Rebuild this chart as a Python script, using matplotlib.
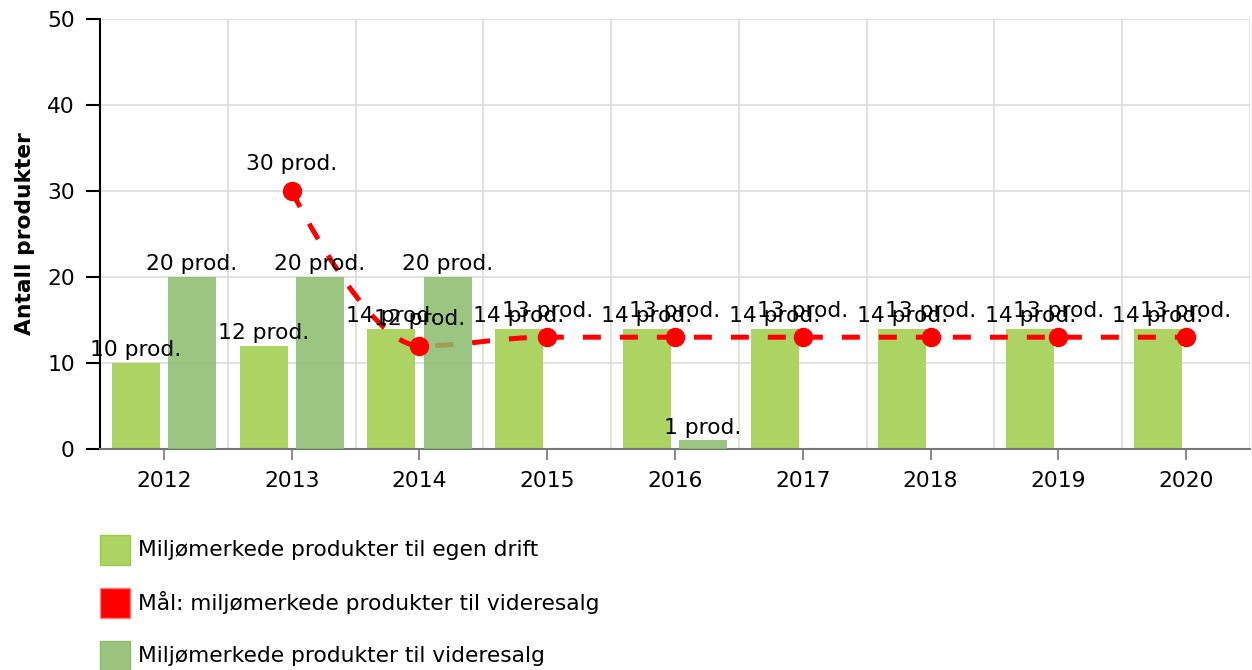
import numpy as np
import matplotlib
matplotlib.use('Agg')
import matplotlib.pyplot as plt
from matplotlib.path import Path
from matplotlib.patches import PathPatch, Rectangle

years = ['2012', '2013', '2014', '2015', '2016', '2017', '2018', '2019', '2020']
egen_drift = [10, 12, 14, 14, 14, 14, 14, 14, 14]
videresalg = [20, 20, 20, np.nan, 1, np.nan, np.nan, np.nan, np.nan]
maal = [np.nan, 30, 12, 13, 13, 13, 13, 13, 13]

legend_labels = ['Miljømerkede produkter til egen drift',
                 'Mål: miljømerkede produkter til videresalg',
                 'Miljømerkede produkter til videresalg']

c_egen = '#add463'
c_vid = '#8bbb6b'
c_red = '#ff0000'
fs = 15.7

plt.rcParams['font.family'] = ['DejaVu Sans']

W, H = 1252, 670
fig = plt.figure(figsize=(W / 100, H / 100), dpi=100)
ax = fig.add_axes([100 / W, 1 - 449 / H, 1150 / W, 430 / H])

x = np.arange(len(years))
bw = 0.375
off = 0.22

ax.bar(x - off, egen_drift, bw, color=c_egen, zorder=2)
ax.bar(x + off, videresalg, bw, color=c_vid, alpha=0.85, zorder=4)


def spline_path(xs, ys, smoothing=1.5):
    # smooth curve through the points (same control point rule as a "spline" series)
    pts = [(a, b) for a, b in zip(xs, ys) if not np.isnan(b)]
    right = {}
    verts = [pts[0]]
    codes = [Path.MOVETO]
    for i in range(1, len(pts)):
        px, py = pts[i]
        lx, ly = pts[i - 1]
        left = (px, py)
        if i + 1 < len(pts):
            nx, ny = pts[i + 1]
            d = smoothing + 1
            lcx, lcy = (smoothing * px + lx) / d, (smoothing * py + ly) / d
            rcx, rcy = (smoothing * px + nx) / d, (smoothing * py + ny) / d
            corr = (rcy - lcy) * (rcx - px) / (rcx - lcx) + py - rcy
            lcy += corr
            rcy += corr
            if lcy > ly and lcy > py:
                lcy = max(ly, py); rcy = 2 * py - lcy
            elif lcy < ly and lcy < py:
                lcy = min(ly, py); rcy = 2 * py - lcy
            if rcy > ny and rcy > py:
                rcy = max(ny, py); lcy = 2 * py - rcy
            elif rcy < ny and rcy < py:
                rcy = min(ny, py); lcy = 2 * py - rcy
            left = (lcx, lcy)
            right[i] = (rcx, rcy)
        verts += [right.get(i - 1, (lx, ly)), left, (px, py)]
        codes += [Path.CURVE4] * 3
    return Path(verts, codes)


lw = 3.6
line = PathPatch(spline_path(x, maal), fill=False, edgecolor=c_red, lw=lw,
                 linestyle=(0, (3.6, 3.8)), capstyle='butt', zorder=3)
ax.add_patch(line)
ax.plot(x, maal, linestyle='none', marker='o', ms=13, color=c_red, zorder=5)

for xi, v in zip(x, egen_drift):
    ax.annotate(f'{v} prod.', (xi - off, v), xytext=(0, 2), textcoords='offset points',
                ha='center', va='bottom', fontsize=fs, zorder=6)
for xi, v in zip(x, videresalg):
    if not np.isnan(v):
        ax.annotate(f'{v:.0f} prod.', (xi + off, v), xytext=(0, 2), textcoords='offset points',
                    ha='center', va='bottom', fontsize=fs, zorder=6)
for xi, v in zip(x, maal):
    if not np.isnan(v):
        ax.annotate(f'{v:.0f} prod.', (xi, v), xytext=(0, 12), textcoords='offset points',
                    ha='center', va='bottom', fontsize=fs, zorder=6)

ax.set_xlim(-0.5, len(years) - 0.5)
ax.set_ylim(0, 50)
ax.set_yticks(range(0, 51, 10))
ax.set_xticks(x)
ax.set_xticklabels(years)
ax.set_xticks(np.arange(-0.5, len(years)), minor=True)
ax.grid(axis='y', color='#dddddd', lw=1.2, zorder=0)
ax.grid(axis='x', which='minor', color='#dddddd', lw=1.2, zorder=0)
ax.tick_params(axis='x', which='major', length=8, width=1.2, color='#777777', pad=8, labelsize=fs)
ax.tick_params(axis='x', which='minor', length=0)
ax.tick_params(axis='y', length=10, width=1.5, color='black', pad=8, labelsize=fs)
for s in ['top', 'right']:
    ax.spines[s].set_visible(False)
ax.spines['left'].set_linewidth(1.5)
ax.spines['bottom'].set_color('#777777')
ax.spines['bottom'].set_linewidth(1.5)
ax.set_ylabel('Antall produkter', fontsize=fs, fontweight='bold', labelpad=9)

# legend below the plot
leg_colors = [(c_egen, '#9ccc45'), (c_red, '#ff8080'), ('#9cc47e', '#8bbb6b')]
for i, (lab, (fc, ec)) in enumerate(zip(legend_labels, leg_colors)):
    yc = 550 + i * 53
    fig.add_artist(Rectangle((100 / W, 1 - (yc + 15) / H), 30 / W, 30 / H,
                             facecolor=fc, edgecolor=ec, lw=1, transform=fig.transFigure))
    fig.text(138 / W, 1 - yc / H, lab, fontsize=fs, va='center', ha='left')

fig.savefig('out.png', dpi=100)
